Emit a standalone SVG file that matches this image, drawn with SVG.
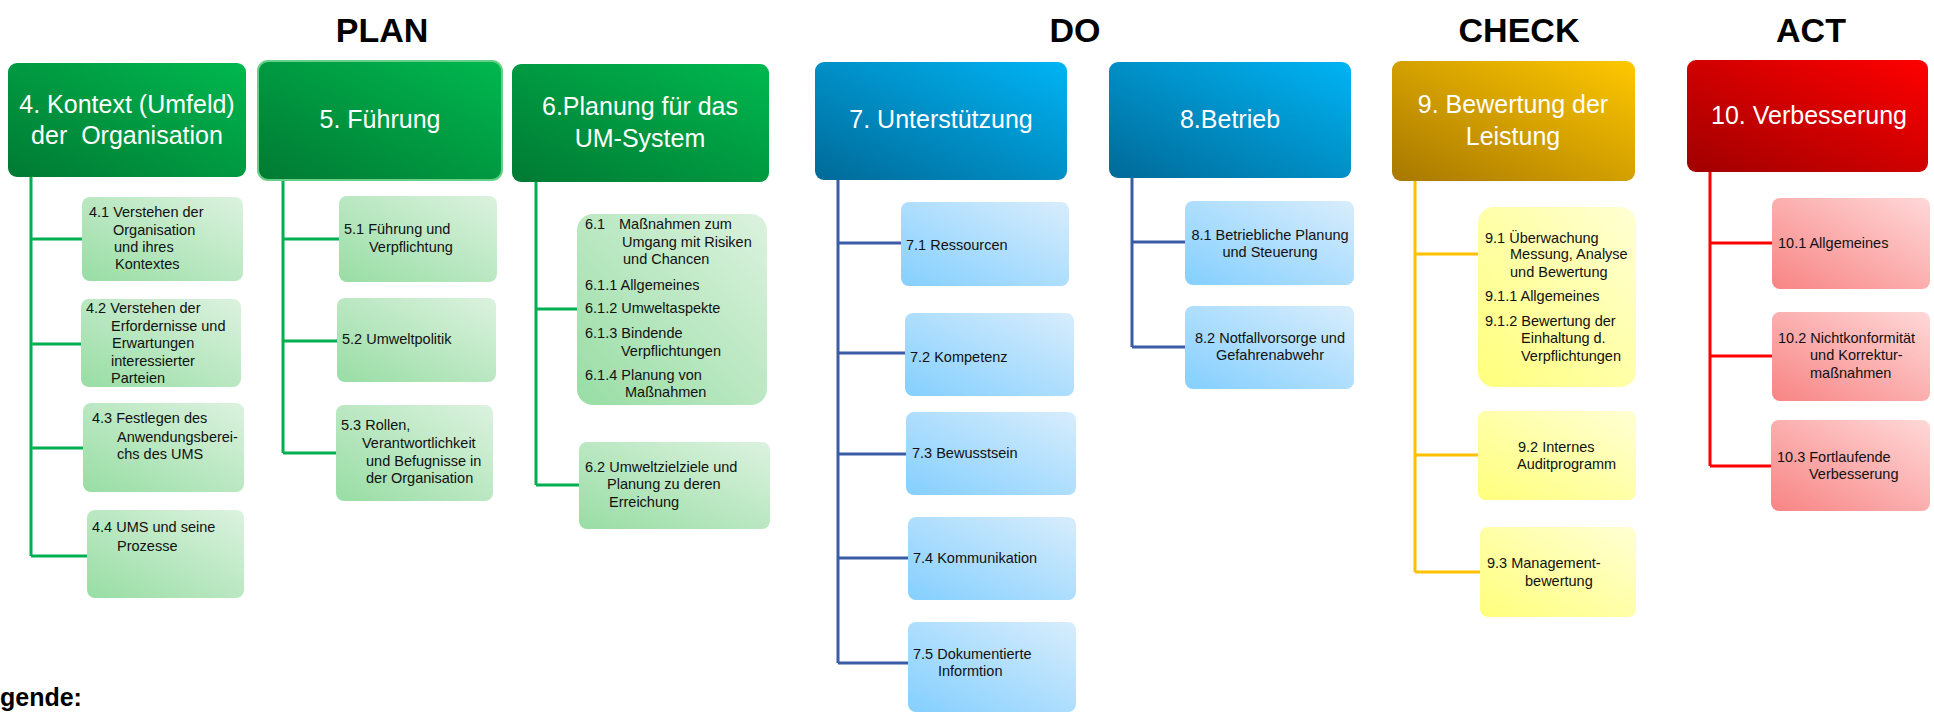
<svg xmlns="http://www.w3.org/2000/svg" width="1934" height="714" viewBox="0 0 1934 714">
<defs>
<linearGradient id="gG" x1="0" y1="1" x2="1" y2="0"><stop offset="0" stop-color="#007a33"/><stop offset="1" stop-color="#00b84f"/></linearGradient>
<linearGradient id="gB" x1="0" y1="1" x2="1" y2="0"><stop offset="0" stop-color="#006a98"/><stop offset="1" stop-color="#00b4f4"/></linearGradient>
<linearGradient id="gY" x1="0" y1="1" x2="1" y2="0"><stop offset="0" stop-color="#a87800"/><stop offset="1" stop-color="#fec800"/></linearGradient>
<linearGradient id="gR" x1="0" y1="1" x2="1" y2="0"><stop offset="0" stop-color="#a00000"/><stop offset="1" stop-color="#ff0000"/></linearGradient>
<linearGradient id="lG" x1="0" y1="1" x2="1" y2="0"><stop offset="0" stop-color="#98dda4"/><stop offset="1" stop-color="#dcf2df"/></linearGradient>
<linearGradient id="lB" x1="0" y1="1" x2="1" y2="0"><stop offset="0" stop-color="#84cfff"/><stop offset="1" stop-color="#d8edfc"/></linearGradient>
<linearGradient id="lY" x1="0" y1="1" x2="1" y2="0"><stop offset="0" stop-color="#ffff7c"/><stop offset="1" stop-color="#ffffd4"/></linearGradient>
<linearGradient id="lR" x1="0" y1="1" x2="1" y2="0"><stop offset="0" stop-color="#f88484"/><stop offset="1" stop-color="#ffd8d8"/></linearGradient>
</defs>
<style>
text{font-family:"Liberation Sans",Arial,sans-serif}
.title{font-size:34px;font-weight:bold;fill:#000;text-anchor:middle}
.h{font-size:25px;fill:#fff;text-anchor:middle}
.s{font-size:14.5px;fill:#111}
.c{text-anchor:middle}
.hG{fill:url(#gG)} .hB{fill:url(#gB)} .hY{fill:url(#gY)} .hR{fill:url(#gR)}
.bG{fill:url(#lG)} .bB{fill:url(#lB)} .bY{fill:url(#lY)} .bR{fill:url(#lR)}
.cn{fill:none;stroke-width:3}
.cG{stroke:#00b050} .cB{stroke:#3a5ba6} .cY{stroke:#ffc000} .cR{stroke:#ff0000}
.leg{font-size:25px;font-weight:bold;fill:#000}
</style>

<g id="titles">
<text class="title" x="382" y="42">PLAN</text>
<text class="title" x="1075" y="42">DO</text>
<text class="title" x="1519" y="42">CHECK</text>
<text class="title" x="1811" y="42">ACT</text>
</g>

<g id="connectors">
<path class="cn cG" d="M31 177V556M31 239H82M31 344H81M31 448H83M31 556H87"/>
<path class="cn cG" d="M283 180V453M283 239H339M283 341H337M283 453H336"/>
<path class="cn cG" d="M536 182V485M536 309H577M536 485H579"/>
<path class="cn cB" d="M838 180V663M838 243H901M838 353H905M838 454H906M838 558H908M838 663H908"/>
<path class="cn cB" d="M1132 178V347M1132 242H1185M1132 347H1185"/>
<path class="cn cY" d="M1415 181V572M1415 254H1478M1415 455H1478M1415 572H1480"/>
<path class="cn cR" d="M1710 172V466M1710 243H1772M1710 356H1772M1710 466H1771"/>
</g>

<g id="n4">
<rect class="hG" x="8" y="63" width="238" height="114" rx="9"/>
<text class="h" x="127" y="113">4. Kontext (Umfeld)</text>
<text class="h" x="127" y="144" xml:space="preserve">der  Organisation</text>
</g>
<g id="n5">
<rect class="hG" x="258" y="61" width="244" height="119" rx="10" stroke="#66cf88" stroke-width="2"/>
<text class="h" x="380" y="128">5. Führung</text>
</g>
<g id="n6">
<rect class="hG" x="512" y="64" width="257" height="118" rx="9"/>
<text class="h" x="640" y="115">6.Planung für das</text>
<text class="h" x="640" y="147">UM-System</text>
</g>
<g id="n7">
<rect class="hB" x="815" y="62" width="252" height="118" rx="9"/>
<text class="h" x="941" y="128">7. Unterstützung</text>
</g>
<g id="n8">
<rect class="hB" x="1109" y="62" width="242" height="116" rx="9"/>
<text class="h" x="1230" y="128">8.Betrieb</text>
</g>
<g id="n9">
<rect class="hY" x="1392" y="61" width="243" height="120" rx="9"/>
<text class="h" x="1513" y="113">9. Bewertung der</text>
<text class="h" x="1513" y="145">Leistung</text>
</g>
<g id="n10">
<rect class="hR" x="1687" y="60" width="241" height="112" rx="9"/>
<text class="h" x="1809" y="124">10. Verbesserung</text>
</g>

<g id="n4-1">
<rect class="bG" x="82" y="197" width="161" height="84" rx="8"/>
<text class="s" x="89" y="217">4.1 Verstehen der</text>
<text class="s" x="113" y="235">Organisation</text>
<text class="s" x="114" y="252">und ihres</text>
<text class="s" x="115" y="269">Kontextes</text>
</g>
<g id="n4-2">
<rect class="bG" x="81" y="299" width="160" height="88" rx="8"/>
<text class="s" x="86" y="313">4.2 Verstehen der</text>
<text class="s" x="111" y="331">Erfordernisse und</text>
<text class="s" x="112" y="348">Erwartungen</text>
<text class="s" x="111" y="366">interessierter</text>
<text class="s" x="111" y="383">Parteien</text>
</g>
<g id="n4-3">
<rect class="bG" x="83" y="403" width="161" height="89" rx="8"/>
<text class="s" x="92" y="423">4.3 Festlegen des</text>
<text class="s" x="117" y="442">Anwendungsberei-</text>
<text class="s" x="117" y="459">chs des UMS</text>
</g>
<g id="n4-4">
<rect class="bG" x="87" y="510" width="157" height="88" rx="8"/>
<text class="s" x="92" y="532">4.4 UMS und seine</text>
<text class="s" x="117" y="551">Prozesse</text>
</g>

<g id="n5-1">
<rect class="bG" x="339" y="196" width="158" height="86" rx="8"/>
<text class="s" x="344" y="234">5.1 Führung und</text>
<text class="s" x="369" y="252">Verpflichtung</text>
</g>
<g id="n5-2">
<rect class="bG" x="337" y="298" width="159" height="84" rx="8"/>
<text class="s" x="342" y="344">5.2 Umweltpolitik</text>
</g>
<g id="n5-3">
<rect class="bG" x="336" y="405" width="157" height="96" rx="8"/>
<text class="s" x="341" y="430">5.3 Rollen,</text>
<text class="s" x="362" y="448">Verantwortlichkeit</text>
<text class="s" x="366" y="466">und Befugnisse in</text>
<text class="s" x="366" y="483">der Organisation</text>
</g>

<g id="n6-1">
<rect class="bG" x="577" y="214" width="190" height="191" rx="16"/>
<text class="s" x="585" y="229">6.1</text>
<text class="s" x="619" y="229">Maßnahmen zum</text>
<text class="s" x="622" y="247">Umgang mit Risiken</text>
<text class="s" x="623" y="264">und Chancen</text>
<text class="s" x="585" y="290">6.1.1 Allgemeines</text>
<text class="s" x="585" y="313">6.1.2 Umweltaspekte</text>
<text class="s" x="585" y="338">6.1.3 Bindende</text>
<text class="s" x="621" y="356">Verpflichtungen</text>
<text class="s" x="585" y="380">6.1.4 Planung von</text>
<text class="s" x="625" y="397">Maßnahmen</text>
</g>
<g id="n6-2">
<rect class="bG" x="579" y="442" width="191" height="87" rx="8"/>
<text class="s" x="585" y="472">6.2 Umweltzielziele und</text>
<text class="s" x="607" y="489">Planung zu deren</text>
<text class="s" x="609" y="507">Erreichung</text>
</g>

<g id="n7-1">
<rect class="bB" x="901" y="202" width="168" height="84" rx="8"/>
<text class="s" x="906" y="250">7.1 Ressourcen</text>
</g>
<g id="n7-2">
<rect class="bB" x="905" y="313" width="169" height="83" rx="8"/>
<text class="s" x="910" y="362">7.2 Kompetenz</text>
</g>
<g id="n7-3">
<rect class="bB" x="906" y="412" width="170" height="83" rx="8"/>
<text class="s" x="912" y="458">7.3 Bewusstsein</text>
</g>
<g id="n7-4">
<rect class="bB" x="908" y="517" width="168" height="83" rx="8"/>
<text class="s" x="913" y="563">7.4 Kommunikation</text>
</g>
<g id="n7-5">
<rect class="bB" x="908" y="622" width="168" height="90" rx="8"/>
<text class="s" x="913" y="659">7.5 Dokumentierte</text>
<text class="s" x="938" y="676">Informtion</text>
</g>

<g id="n8-1">
<rect class="bB" x="1185" y="201" width="169" height="84" rx="8"/>
<text class="s c" x="1270" y="240">8.1 Betriebliche Planung</text>
<text class="s c" x="1270" y="257">und Steuerung</text>
</g>
<g id="n8-2">
<rect class="bB" x="1185" y="306" width="169" height="83" rx="8"/>
<text class="s c" x="1270" y="343">8.2 Notfallvorsorge und</text>
<text class="s c" x="1270" y="360">Gefahrenabwehr</text>
</g>

<g id="n9-1">
<rect class="bY" x="1478" y="207" width="158" height="180" rx="16"/>
<text class="s" x="1485" y="243">9.1 Überwachung</text>
<text class="s" x="1510" y="259">Messung, Analyse</text>
<text class="s" x="1510" y="277">und Bewertung</text>
<text class="s" x="1485" y="301">9.1.1 Allgemeines</text>
<text class="s" x="1485" y="326">9.1.2 Bewertung der</text>
<text class="s" x="1521" y="343">Einhaltung d.</text>
<text class="s" x="1521" y="361">Verpflichtungen</text>
</g>
<g id="n9-2">
<rect class="bY" x="1478" y="411" width="158" height="89" rx="8"/>
<text class="s" x="1518" y="452">9.2 Internes</text>
<text class="s" x="1517" y="469">Auditprogramm</text>
</g>
<g id="n9-3">
<rect class="bY" x="1480" y="527" width="156" height="90" rx="8"/>
<text class="s" x="1487" y="568">9.3 Management-</text>
<text class="s" x="1525" y="586">bewertung</text>
</g>

<g id="n10-1">
<rect class="bR" x="1772" y="198" width="158" height="91" rx="8"/>
<text class="s" x="1778" y="248">10.1 Allgemeines</text>
</g>
<g id="n10-2">
<rect class="bR" x="1772" y="312" width="158" height="89" rx="8"/>
<text class="s" x="1778" y="343">10.2 Nichtkonformität</text>
<text class="s" x="1810" y="360">und Korrektur-</text>
<text class="s" x="1810" y="378">maßnahmen</text>
</g>
<g id="n10-3">
<rect class="bR" x="1771" y="420" width="159" height="91" rx="8"/>
<text class="s" x="1777" y="462">10.3 Fortlaufende</text>
<text class="s" x="1809" y="479">Verbesserung</text>
</g>

<g id="legend">
<text class="leg" x="0" y="706">gende:</text>
</g>
</svg>
